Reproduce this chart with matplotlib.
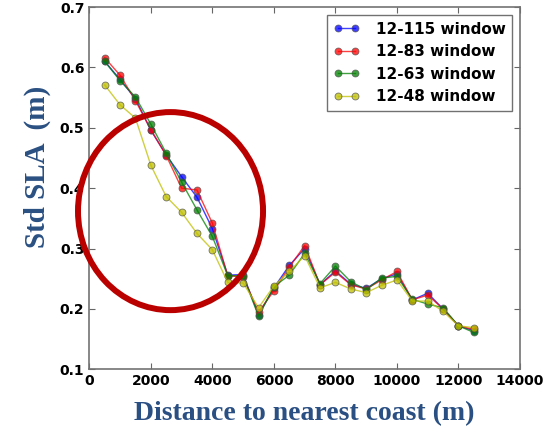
import numpy as np
import matplotlib.pyplot as plt
from matplotlib.patches import Ellipse

# distance to nearest coast (m)
dist = [500, 1000, 1500, 2000, 2500, 3000, 3500, 4000, 4500, 5000, 5500, 6000, 6500,
        7000, 7500, 8000, 8500, 9000, 9500, 10000, 10500, 11000, 11500, 12000, 12500]

# std SLA (m) for each window
w115 = [0.610, 0.580, 0.548, 0.496, 0.455, 0.419, 0.385, 0.333, 0.256, 0.257, 0.190, 0.235, 0.272,
        0.300, 0.240, 0.263, 0.241, 0.234, 0.250, 0.258, 0.215, 0.226, 0.200, 0.172, 0.164]
w83 = [0.616, 0.587, 0.545, 0.497, 0.454, 0.400, 0.397, 0.342, 0.255, 0.253, 0.195, 0.230, 0.269,
       0.305, 0.240, 0.261, 0.240, 0.233, 0.248, 0.262, 0.215, 0.223, 0.200, 0.172, 0.166]
w63 = [0.610, 0.578, 0.551, 0.506, 0.458, 0.410, 0.364, 0.320, 0.255, 0.255, 0.188, 0.237, 0.256,
       0.292, 0.242, 0.271, 0.245, 0.232, 0.251, 0.254, 0.216, 0.208, 0.202, 0.172, 0.161]
w48 = [0.571, 0.538, 0.516, 0.438, 0.386, 0.360, 0.325, 0.298, 0.244, 0.243, 0.202, 0.238, 0.262,
       0.288, 0.235, 0.244, 0.233, 0.227, 0.239, 0.248, 0.213, 0.213, 0.196, 0.172, 0.169]

labels = ['12-115 window', '12-83 window', '12-63 window', '12-48 window']
colors = ['b', 'r', 'g', 'y']

fig = plt.figure(figsize=(5.56, 4.28), dpi=100)
ax = fig.add_axes([0.1606, 0.1371, 0.7747, 0.8465])

for vals, lab, c in zip([w115, w83, w63, w48], labels, colors):
    ax.plot(dist, vals, '-o', color=c, label=lab, lw=1.0, alpha=0.75,
            markersize=5, markeredgecolor='0.3', markeredgewidth=0.6)

ax.set_xlim(0, 14000)
ax.set_ylim(0.1, 0.7)
ax.set_xticks(np.arange(0, 14001, 2000))
ax.set_yticks(np.arange(0.1, 0.71, 0.1))
ax.set_yticklabels(['0.1', '0.2', '0.3', '0.4', '0.5', '0.6', '0.7'])
ax.tick_params(direction='in', top=True, right=True, length=4, color='0.4', labelsize=10)
for lbl in ax.get_xticklabels() + ax.get_yticklabels():
    lbl.set_fontweight('bold')
for sp in ax.spines.values():
    sp.set_color('0.45')
    sp.set_linewidth(1.2)

navy = '#2a4f82'
ax.set_xlabel('Distance to nearest coast (m)', family='Liberation Serif', fontsize=20,
              fontweight='bold', color=navy, labelpad=9)
ax.set_ylabel('Std SLA  (m)', family='Liberation Serif', fontsize=21,
              fontweight='bold', color=navy)
ax.yaxis.set_label_coords(-0.09, 0.558)

leg = ax.legend(loc='upper right', prop={'weight': 'bold', 'size': 11},
                fancybox=False, edgecolor='0.3', numpoints=2, handlelength=1.7,
                borderpad=0.45, labelspacing=0.5, handletextpad=1.05,
                borderaxespad=0.5)
leg.get_frame().set_linewidth(1.0)

# red highlight circle
circ = Ellipse((2640, 0.362), 6014, 0.328, fill=False, edgecolor='#bb0000',
               lw=4.3, clip_on=False, zorder=10)
ax.add_patch(circ)

fig.savefig('out.png', dpi=100)
